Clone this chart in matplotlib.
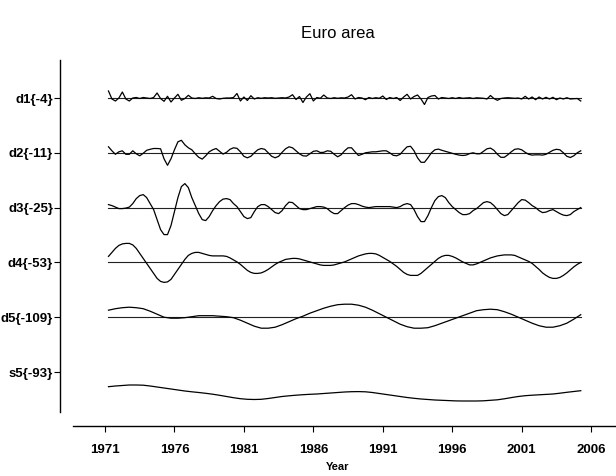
import numpy as np
import matplotlib
matplotlib.use("Agg")
import matplotlib.pyplot as plt

# ---- data (units = arbitrary display units) ----
row_labels = ["d1{-4}", "d2{-11}", "d3{-25}", "d4{-53}", "d5{-109}", "s5{-93}"]
year_ticks = [1971, 1976, 1981, 1986, 1991, 1996, 2001, 2006]
start_q = 1971.25   # first quarterly observation

d1 = [7, -1, -3,
      0, 6, -1, -3,
      0, 0.5, -0.5, 0.5,
      0, -0.5, 0.5, 5,
      -0.5, -3.3, 1.7, -4,
      0, 3.7, -2.3, -0.5,
      2.7, 0, -0.5, 0.3,
      -0.3, 0.2, 0, 1.7,
      -0.5, -1, -0.3, 0,
      0, 0.5, 4.5, -3,
      1, -2.5, 2.3, -1,
      0.3, -0.3, 0.3, 0,
      0.3, -0.3, 0, 0.3,
      0, 1, 3.3, -1.5,
      1.5, -4.5, 1, 4.3,
      -3, 0.5, -0.3, 3,
      0, -0.5, 0.3, -0.3,
      0.2, 0, 1, 3.3,
      -1, 0.5, 0, -1.7,
      0.5, -0.5, 0.3, -0.3,
      2, -1.5, 0.5, -0.5,
      0.5, -2.5, 1, 3.7,
      -1, 1.5, 3, -1,
      -6.5, 0.5, 2, 2.5,
      -1, 0.5, 0, -0.5,
      0.3, -0.5, 0.5, -0.3,
      0, 0.3, -0.5, 0.2,
      0, -0.3, -1, 2.5,
      -0.5, -2.3, -0.5, 0,
      0.3, 0, -0.3, 0,
      -1, 1.7, -1, 1,
      -1.7, 1, -1, 0.7,
      -1, 0.7, -1.7, 0,
      -1, 0.3, -1, -0.7,
      -0.5, -3]

d2 = [6, 2, -1.5,
      1, 2, -1.5, -1.5,
      2, -1, -3, -0.5,
      2.5, 3.5, 4.3, 4.3,
      4, -6, -12.5, -6,
      3, 11, 12.5, 8,
      5, 3, -1, -4.5,
      -6.3, -3, 1, 3,
      4.3, 1.5, -1.3, 0.5,
      3.5, 5, 4.5, 1,
      -3.5, -5, -3.5, 0,
      3, 4.3, 3.5, 0,
      -3.5, -5, -3.5, 0.5,
      4, 6, 5, 2,
      -1, -3, -3.3, -1,
      1.5, 2, 0.3, 0.5,
      2, 1.5, -1.5, -4,
      -2, 2, 5, 5,
      1, -2.7, -1.5, 0,
      0.5, 1, 1, 1.5,
      2, 2, 0, -2.5,
      -3, -1.5, 2.5, 6,
      6.5, 2, -5, -9.5,
      -9.5, -5, 0, 3,
      3.7, 2.5, 1.5, 0.5,
      -0.5, -1.5, -2.3, -2.7,
      -2.3, -0.8, 0, -1,
      -1, 1.5, 4, 4.7,
      2.5, -1.5, -4.5, -4.5,
      -2, 1, 3.5, 4,
      3, 0.5, -1.5, -2.3,
      -2, -2, -2.3, -1.5,
      0.5, 2.5, 3.5, 3,
      0, -3.5, -4.7, -3,
      0, 2]

d3 = [3, 2, 0.5,
      -1, -1, -0.5, 0.5,
      4, 9, 12, 13,
      10, 4, -2, -12,
      -22, -27, -27, -18,
      -4, 10, 21, 24,
      20, 10, 2, -6,
      -12, -13, -9, -3,
      2, 6, 8.5, 9,
      8, 4, 1, -4,
      -9, -11, -10, -4,
      1, 3, 3, 1,
      -2, -5, -6, -3,
      2, 5.5, 5, 2,
      -1, -2, -2, -1,
      0, 1, 1, 0.5,
      -1, -4, -6, -6,
      -3, 0, 2.5, 4,
      4, 3, 1.5, 0.5,
      0, 0.5, 1, 1,
      1, 1, 1, 0.5,
      0, 1, 3, 4,
      3, -2, -9, -14,
      -14, -8, 0, 7,
      11, 12, 10, 5,
      1, -2, -5, -7,
      -7, -6, -3, -1,
      2, 5, 6, 5,
      2, -2, -6, -8,
      -7, -3, 1, 5,
      8, 7.5, 5, 2,
      0, -3, -5, -4.5,
      -3, -2, -4, -6,
      -7.5, -8, -7, -4,
      -2, 0]

d4 = [6, 10, 14,
      17, 18.5, 19, 19,
      17.5, 14, 9, 4,
      -1, -6, -11, -16,
      -19, -20, -19.5, -17,
      -12, -7, -2, 3,
      7, 9, 10, 10,
      9, 8, 7, 6.5,
      6.5, 6.5, 6.5, 6,
      4.5, 2.5, 0.5, -2,
      -5, -8, -10, -11,
      -11, -10.5, -9, -7,
      -4.5, -2, 0, 1.5,
      3, 3.5, 4, 4,
      3.5, 2.5, 1.5, 0.5,
      -0.5, -1.5, -2.5, -3,
      -3, -3, -2.5, -1.5,
      -0.5, 0.5, 2, 3.5,
      5, 6.5, 7.5, 8.5,
      9, 9, 8.5, 7,
      5, 3, 1, -1.5,
      -4, -7, -10, -12,
      -13, -13, -13, -11,
      -8, -5, -2, 1,
      4, 6, 7, 7,
      6, 4.5, 2.5, 0.5,
      -1, -2.5, -2.5, -1.5,
      0, 1.5, 3, 4.5,
      5.5, 6.5, 7, 7.5,
      7.5, 7.5, 7, 5.5,
      4, 2.5, 1, -1,
      -4, -7, -10.5, -13,
      -15, -16, -16, -15,
      -13, -10.5, -7.5, -4.5,
      -2, 0]

# semi-annual readings for the smooth components
d5 = [7, 8.5, 9.5, 10, 9.5, 8.5, 6, 3, 0, -1,
      -1, -0.5, 0.5, 1.5, 1.5, 1.5, 1, 0.5, -0.5, -3,
      -6, -9, -11, -11, -10, -7.5, -4.5, -1.5, 1, 4,
      6.5, 9, 11, 12.5, 13, 13, 12, 10, 7, 3.5,
      0, -3.5, -7, -9.5, -11, -11, -10.5, -8.5, -6, -3.5,
      -1, 1.5, 4, 6.5, 7.5, 8, 7.5, 5.5, 3, 0,
      -3, -6, -8.5, -10, -10, -8.5, -6, -2, 2.5]

s5 = [-14.7, -14, -13.5, -13, -13, -13.2, -14, -15, -16, -17,
      -18, -19, -19.8, -20.5, -21.3, -22.2, -23.3, -24.5, -25.7, -26.7,
      -27.3, -27.5, -27.3, -26.5, -25.5, -24.5, -23.8, -23.2, -22.7, -22.3,
      -22, -21.5, -21, -20.5, -20, -19.7, -19.6, -19.8, -20.5, -21.5,
      -22.5, -23.5, -24.5, -25.5, -26.3, -27, -27.5, -28, -28.3, -28.6,
      -28.9, -29, -29, -29, -28.8, -28.3, -27.8, -26.8, -25.6, -24.5,
      -23.7, -23.2, -22.8, -22.4, -22, -21.2, -20.3, -19.5, -18.7]

t_q = start_q + 0.25 * np.arange(len(d1))
t_q2 = start_q + 0.25 * np.arange(len(d2))
t_q3 = start_q + 0.25 * np.arange(len(d3))
t_q4 = start_q + 0.25 * np.arange(len(d4))
t_s5 = start_q + 0.5 * np.arange(len(d5))
t_ss = start_q + 0.5 * np.arange(len(s5))

series = [(t_q, d1), (t_q2, d2), (t_q3, d3), (t_q4, d4), (t_s5, d5), (t_ss, s5)]

# ---- figure ----
fig = plt.figure(figsize=(6.16, 4.76), dpi=100)
ax = fig.add_axes([60 / 616, 50 / 476, 556 / 616, 366 / 476])

x_left = 1971 - 45 / 13.89
x_right = 1971 + 511 / 13.89
ax.set_xlim(x_left, x_right)
ax.set_ylim(0, 366)

top_row = 328
row_step = 54.8
offsets = [top_row - row_step * i for i in range(len(series))]

for i, (t, v) in enumerate(series):
    off = offsets[i]
    if i < 5:
        ax.plot([t[0], t[-1]], [off, off], color="#222222", lw=0.8, zorder=2)
    ax.plot(t, off + np.asarray(v, dtype=float), color="black", lw=0.9, zorder=3)

ax.set_yticks(offsets)
ax.set_yticklabels(row_labels, fontsize=9.5, fontweight="bold", family="Liberation Sans")
ax.set_xticks(year_ticks)
ax.set_xticklabels([str(y) for y in year_ticks], fontsize=9.5, fontweight="bold",
                   family="Liberation Sans")
ax.tick_params(axis="both", direction="out", length=4, width=0.8, color="black")
ax.tick_params(axis="y", pad=1)
ax.tick_params(axis="x", pad=9)

for s in ["top", "right"]:
    ax.spines[s].set_visible(False)
ax.spines["left"].set_bounds(14, 366)
ax.spines["bottom"].set_bounds(1971 - 32 / 13.89, x_right)
for s in ["left", "bottom"]:
    ax.spines[s].set_linewidth(1.0)

ax.set_xlabel("Year", fontsize=8, fontweight="bold", family="Liberation Sans", labelpad=4)
fig.text(338 / 616, 1 - 33 / 476, "Euro area", ha="center", va="center",
         fontsize=12, family="Liberation Sans")

fig.savefig("out.png", dpi=100)
